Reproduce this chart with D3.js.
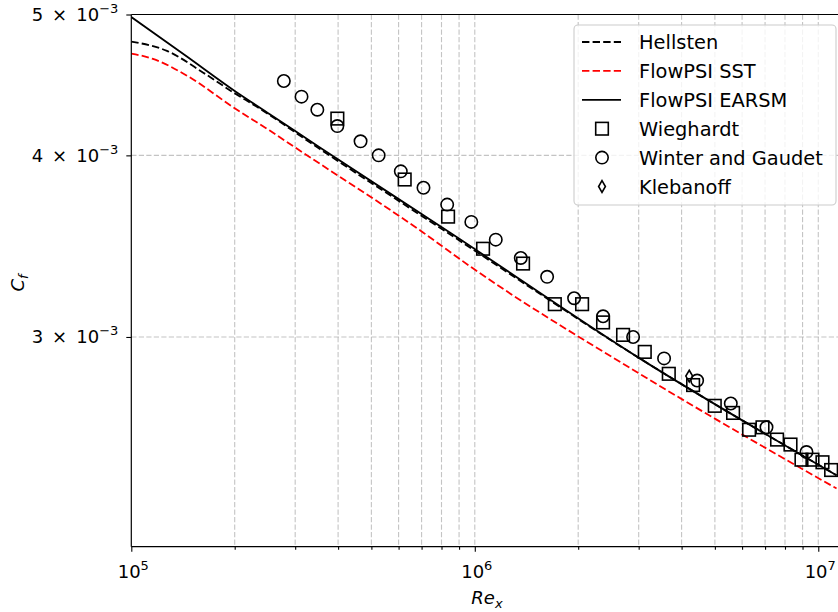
<!DOCTYPE html>
<html>
<head>
<meta charset="utf-8">
<script src="https://cdn.jsdelivr.net/npm/d3@7"></script>
<style>
  body { margin: 0; background: #fff; }
  svg { font-family: "DejaVu Sans", sans-serif; display: block; }
</style>
</head>
<body>
<div id="chart"></div>
<script>
// skin friction vs Reynolds number, log-log

// lines
let hellstenRe = [1e5, 1.27e5, 1.62e5, 1.98e5, 2.32e5, 3.54e5, 8.46e5, 3.02e6, 1.13e7];
let hellstenCf = [4.79e-3, 4.72e-3, 4.56e-3, 4.42e-3, 4.32e-3, 4.04e-3, 3.53e-3, 2.90e-3, 2.41e-3];

let sstRe = [1e5, 1.157e5, 1.448e5, 2.0e5, 2.53e5, 3.0e5, 7.07e5, 9.78e5, 3.02e6, 1.13e7];
let sstCf = [4.70e-3, 4.66e-3, 4.54e-3, 4.31e-3, 4.16e-3, 4.05e-3, 3.54e-3, 3.35e-3, 2.83e-3, 2.36e-3];

let earsmRe = [1e5, 1.448e5, 2.0e5, 2.53e5, 3.54e5, 8.46e5, 3.02e6, 1.13e7];
let earsmCf = [4.98e-3, 4.68e-3, 4.43e-3, 4.27e-3, 4.05e-3, 3.54e-3, 2.90e-3, 2.41e-3];

// experiments
let wieghardtRe = [3.98e5, 6.25e5, 8.36e5, 1.057e6, 1.382e6, 1.71e6, 2.053e6, 2.363e6, 2.702e6, 3.125e6, 3.671e6,
                   4.321e6, 4.996e6, 5.649e6, 6.288e6, 6.88e6, 7.586e6, 8.30e6, 8.935e6, 9.618e6, 1.0285e7, 1.09e7];
let wieghardtCf = [4.24e-3, 3.85e-3, 3.63e-3, 3.45e-3, 3.37e-3, 3.16e-3, 3.16e-3, 3.07e-3, 3.01e-3, 2.93e-3, 2.83e-3,
                   2.78e-3, 2.69e-3, 2.66e-3, 2.59e-3, 2.60e-3, 2.55e-3, 2.53e-3, 2.47e-3, 2.47e-3, 2.46e-3, 2.43e-3];

let winterRe = [2.78e5, 3.13e5, 3.48e5, 3.98e5, 4.65e5, 5.25e5, 6.09e5, 7.09e5, 8.31e5, 9.77e5, 1.151e6,
                1.361e6, 1.624e6, 1.946e6, 2.363e6, 2.89e6, 3.557e6, 4.439e6, 5.563e6, 7.067e6, 9.24e6];
let winterCf = [4.50e-3, 4.39e-3, 4.30e-3, 4.19e-3, 4.09e-3, 4.00e-3, 3.90e-3, 3.80e-3, 3.70e-3, 3.60e-3, 3.50e-3,
                3.40e-3, 3.30e-3, 3.19e-3, 3.10e-3, 3.00e-3, 2.90e-3, 2.80e-3, 2.70e-3, 2.60e-3, 2.50e-3];

let klebanoffRe = [4.21e6];
let klebanoffCf = [2.82e-3];

// ticks
let xMajor = [1e5, 1e6, 1e7];
let xMajorExp = ["5", "6", "7"];
let xMinor = [2e5,3e5,4e5,5e5,6e5,7e5,8e5,9e5, 2e6,3e6,4e6,5e6,6e6,7e6,8e6,9e6];
let yTicks = [5e-3, 4e-3, 3e-3];
let yTickMant = ["5", "4", "3"];

let svgWidth = 838;
let svgHeight = 612;
let padLeft = 131.3, padRight = 841.7, padTop = 14.5, padBottom = 546.7;

let xScale = d3.scaleLog().domain([1e5, 1.17e7]).range([padLeft, padRight]);
let yScale = d3.scaleLog().domain([2.152e-3, 5e-3]).range([padBottom, padTop]);

let svg = d3.select("#chart")
  .append("svg")
  .attr("width", svgWidth)
  .attr("height", svgHeight);

svg.append("clipPath").attr("id", "plotclip")
  .append("rect")
  .attr("x", padLeft).attr("y", padTop)
  .attr("width", padRight - padLeft).attr("height", padBottom - padTop);

//grid lines
let grid = svg.append("g")
  .attr("stroke", "#b0b0b0")
  .attr("stroke-opacity", 0.75)
  .attr("stroke-width", 1.1)
  .attr("stroke-dasharray", "5.2,2.3");

grid.selectAll("line.gx")
  .data(xMajor.concat(xMinor).filter(d => d > 1e5))
  .enter().append("line")
  .attr("x1", d => xScale(d)).attr("x2", d => xScale(d))
  .attr("y1", padTop).attr("y2", padBottom);

grid.selectAll("line.gy")
  .data(yTicks.filter(d => d < 5e-3))
  .enter().append("line")
  .attr("x1", padLeft).attr("x2", padRight)
  .attr("y1", d => yScale(d)).attr("y2", d => yScale(d));

//model curves
function zipPts(xs, ys) {
  return xs.map((x, i) => [x, ys[i]]);
}

let line = d3.line()
  .x(d => xScale(d[0]))
  .y(d => yScale(d[1]))
  .curve(d3.curveMonotoneX);

let curves = [
  { pts: zipPts(hellstenRe, hellstenCf), color: "black", dash: "7.4,3.2" },
  { pts: zipPts(sstRe, sstCf), color: "red", dash: "7.4,3.2" },
  { pts: zipPts(earsmRe, earsmCf), color: "black", dash: null }
];

let curveG = svg.append("g").attr("clip-path", "url(#plotclip)");
curveG.selectAll("path")
  .data(curves)
  .enter().append("path")
  .attr("d", d => line(d.pts))
  .attr("fill", "none")
  .attr("stroke", d => d.color)
  .attr("stroke-width", 1.8)
  .attr("stroke-dasharray", d => d.dash);

//markers
function drawSquare(g, cx, cy) {
  g.append("rect")
    .attr("x", cx - 6.3).attr("y", cy - 6.3)
    .attr("width", 12.6).attr("height", 12.6)
    .attr("fill", "none").attr("stroke", "black").attr("stroke-width", 1.6);
}
function drawCircle(g, cx, cy) {
  g.append("circle")
    .attr("cx", cx).attr("cy", cy).attr("r", 6.2)
    .attr("fill", "none").attr("stroke", "black").attr("stroke-width", 1.6);
}
function drawDiamond(g, cx, cy) {
  g.append("path")
    .attr("d", `M${cx},${cy - 5.8}L${cx + 3.4},${cy}L${cx},${cy + 5.8}L${cx - 3.4},${cy}Z`)
    .attr("fill", "none").attr("stroke", "black").attr("stroke-width", 1.6);
}

let markG = svg.append("g").attr("clip-path", "url(#plotclip)");
wieghardtRe.forEach((x, i) => drawSquare(markG, xScale(x), yScale(wieghardtCf[i])));
winterRe.forEach((x, i) => drawCircle(markG, xScale(x), yScale(winterCf[i])));
klebanoffRe.forEach((x, i) => drawDiamond(markG, xScale(x), yScale(klebanoffCf[i])));

//axes
let xAxisMajor = d3.axisBottom(xScale).tickValues(xMajor).tickFormat("").tickSize(5);
let xAxisMinor = d3.axisBottom(xScale).tickValues(xMinor).tickFormat("").tickSize(3);

let gx = svg.append("g").attr("transform", `translate(0,${padBottom})`).call(xAxisMajor);
let gxm = svg.append("g").attr("transform", `translate(0,${padBottom})`).call(xAxisMinor);
[gx, gxm].forEach(g => {
  g.select(".domain").remove();
  g.selectAll(".tick line").attr("stroke", "black").attr("stroke-width", 1.1);
});

let yAxis = d3.axisLeft(yScale).tickValues(yTicks).tickFormat("").tickSize(5);
let gy = svg.append("g").attr("transform", `translate(${padLeft},0)`).call(yAxis);
gy.select(".domain").remove();
gy.selectAll(".tick line").attr("stroke", "black").attr("stroke-width", 1.1);

//spines
svg.append("line").attr("x1", padLeft).attr("x2", svgWidth).attr("y1", padBottom).attr("y2", padBottom)
  .attr("stroke", "black").attr("stroke-width", 1.2);
svg.append("line").attr("x1", padLeft).attr("x2", svgWidth).attr("y1", padTop).attr("y2", padTop)
  .attr("stroke", "black").attr("stroke-width", 1.2);
svg.append("line").attr("x1", padLeft).attr("x2", padLeft).attr("y1", padTop).attr("y2", padBottom)
  .attr("stroke", "black").attr("stroke-width", 1.2);

//tick labels
xMajor.forEach((v, i) => {
  let t = svg.append("text")
    .attr("x", xScale(v) + 2).attr("y", padBottom + 31)
    .attr("text-anchor", "middle")
    .attr("font-size", 18);
  t.append("tspan").text("10");
  t.append("tspan").attr("dy", -8).attr("font-size", 13).text(xMajorExp[i]);
});

yTicks.forEach((v, i) => {
  let t = svg.append("text")
    .attr("x", padLeft - 13).attr("y", yScale(v) + 6.5)
    .attr("text-anchor", "end")
    .attr("font-size", 18)
    .attr("xml:space", "preserve");
  t.append("tspan").text(yTickMant[i] + "\u2002\u00d7\u200210");
  t.append("tspan").attr("dy", -8).attr("font-size", 13).text("\u22123");
});

//axis titles
let xt = svg.append("text")
  .attr("x", 487).attr("y", 604)
  .attr("text-anchor", "middle")
  .attr("font-size", 18)
  .attr("font-style", "italic");
xt.append("tspan").text("Re");
xt.append("tspan").attr("dy", 4).attr("font-size", 13).text("x");

let yt = svg.append("text")
  .attr("transform", "translate(24,283) rotate(-90)")
  .attr("text-anchor", "middle")
  .attr("font-size", 18)
  .attr("font-style", "italic");
yt.append("tspan").text("C");
yt.append("tspan").attr("dy", 4).attr("font-size", 13).text("f");

//legend
let legendItems = [
  { label: "Hellsten", kind: "line", color: "black", dash: "7.4,3.2" },
  { label: "FlowPSI SST", kind: "line", color: "red", dash: "7.4,3.2" },
  { label: "FlowPSI EARSM", kind: "line", color: "black", dash: null },
  { label: "Wieghardt", kind: "square" },
  { label: "Winter and Gaudet", kind: "circle" },
  { label: "Klebanoff", kind: "diamond" }
];

let lg = svg.append("g");
lg.append("rect")
  .attr("x", 574).attr("y", 25)
  .attr("width", 262).attr("height", 180)
  .attr("rx", 4)
  .attr("fill", "white").attr("fill-opacity", 0.8)
  .attr("stroke", "#cccccc").attr("stroke-width", 1.1);

legendItems.forEach((d, i) => {
  let cy = 42 + i * 28.9;
  if (d.kind == "line") {
    lg.append("line")
      .attr("x1", 582).attr("x2", 621).attr("y1", cy).attr("y2", cy)
      .attr("stroke", d.color).attr("stroke-width", 1.8)
      .attr("stroke-dasharray", d.dash);
  } else if (d.kind == "square") {
    drawSquare(lg, 602, cy);
  } else if (d.kind == "circle") {
    drawCircle(lg, 602, cy);
  } else {
    drawDiamond(lg, 602, cy);
  }
  lg.append("text")
    .attr("x", 639).attr("y", cy + 7)
    .attr("font-size", 19.4)
    .text(d.label);
});
</script>
</body>
</html>
